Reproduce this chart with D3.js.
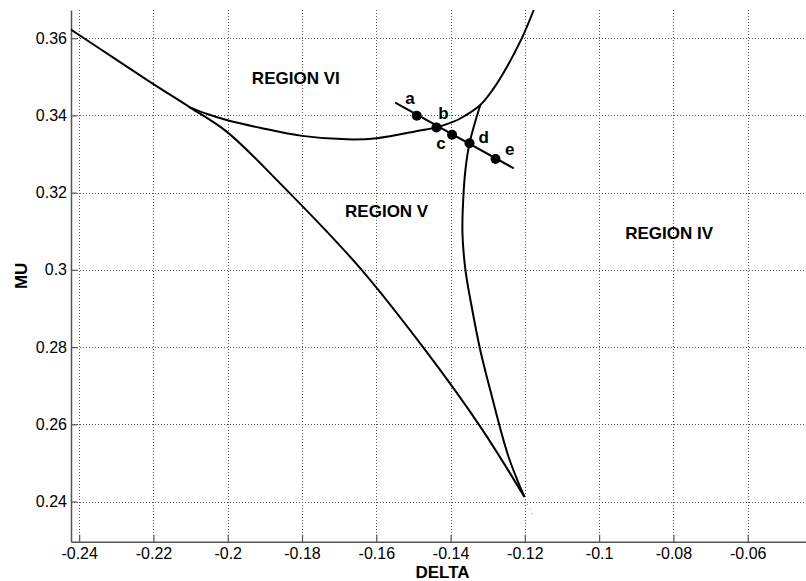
<!DOCTYPE html>
<html>
<head>
<meta charset="utf-8">
<script src="https://cdn.jsdelivr.net/npm/d3@7"></script>
<style>
  body { margin: 0; background: #fff; }
  svg { display: block; }
</style>
</head>
<body>
<svg id="chart" width="806" height="581"></svg>
<script>
var width = 806;
var height = 581;

// tick values and their printed labels
var xTicks = [-0.24, -0.22, -0.2, -0.18, -0.16, -0.14, -0.12, -0.1, -0.08, -0.06];
var xTickLabels = ["-0.24", "-0.22", "-0.2", "-0.18", "-0.16", "-0.14", "-0.12", "-0.1", "-0.08", "-0.06"];
var yTicks = [0.24, 0.26, 0.28, 0.3, 0.32, 0.34, 0.36];
var yTickLabels = ["0.24", "0.26", "0.28", "0.3", "0.32", "0.34", "0.36"];

// boundary curves [delta, mu]
var curveA = [
    [-0.2425, 0.3624], [-0.2299, 0.3544], [-0.2200, 0.3481], [-0.2102, 0.3421],
    [-0.2003, 0.3358], [-0.1859, 0.3224], [-0.1643, 0.3004], [-0.1468, 0.2792],
    [-0.1320, 0.2594], [-0.1201, 0.2412]
];
var curveB = [
    [-0.2102, 0.3421], [-0.2053, 0.3403], [-0.2003, 0.3388], [-0.1913, 0.3368],
    [-0.1800, 0.3347], [-0.1679, 0.3338], [-0.1598, 0.3341], [-0.1482, 0.3361],
    [-0.1438, 0.3369], [-0.1392, 0.3384], [-0.1374, 0.3392], [-0.1320, 0.3427],
    [-0.1284, 0.3470], [-0.1248, 0.3526], [-0.1208, 0.3600], [-0.1176, 0.3673]
];
var curveC = [
    [-0.1320, 0.3427], [-0.1349, 0.3328], [-0.1360, 0.3259], [-0.1366, 0.3181],
    [-0.1368, 0.3095], [-0.1360, 0.3000], [-0.1344, 0.2909], [-0.1320, 0.2792],
    [-0.1293, 0.2688], [-0.1244, 0.2516], [-0.1201, 0.2412]
];
var tail = [[-0.1199, 0.2405], [-0.1177, 0.2360]];

// path of the sample line and its points
var sampleLine = [[-0.1549, 0.3433], [-0.1230, 0.3263]];
var samplePoints = [
    { key: "a", x: -0.1491, y: 0.3399, lx: -0.1509, ly: 0.3429 },
    { key: "b", x: -0.1438, y: 0.3369, lx: -0.1419, ly: 0.3390 },
    { key: "c", x: -0.1396, y: 0.3350, lx: -0.1426, ly: 0.3312 },
    { key: "d", x: -0.1349, y: 0.3328, lx: -0.1311, ly: 0.3328 },
    { key: "e", x: -0.1279, y: 0.3287, lx: -0.1241, ly: 0.3298 }
];

var regions = [
    { key: "REGION VI", x: -0.1935, y: 0.3482 },
    { key: "REGION V", x: -0.1684, y: 0.3137 },
    { key: "REGION IV", x: -0.0930, y: 0.3079 }
];

var plotLeft = 71, plotTop = 10, plotBottom = 541.7, plotRight = 806;

var x = d3.scaleLinear().domain([-0.2422, -0.0443]).range([plotLeft, plotRight]);
var y = d3.scaleLinear().domain([0.2296, 0.3673]).range([plotBottom, plotTop]);

var svg = d3.select("#chart");

svg.append("defs").append("clipPath").attr("id", "plotclip")
    .append("rect")
    .attr("x", plotLeft).attr("y", plotTop)
    .attr("width", plotRight - plotLeft).attr("height", plotBottom - plotTop);

// grid
var grid = svg.append("g").attr("class", "grid")
    .style("stroke", "#555").style("stroke-width", 1).style("stroke-dasharray", "1,2");
grid.selectAll("line.v").data(xTicks).enter().append("line")
    .attr("x1", function (d) { return Math.round(x(d)) + 0.5; })
    .attr("x2", function (d) { return Math.round(x(d)) + 0.5; })
    .attr("y1", plotTop).attr("y2", plotBottom);
grid.selectAll("line.h").data(yTicks).enter().append("line")
    .attr("y1", function (d) { return Math.round(y(d)) + 0.5; })
    .attr("y2", function (d) { return Math.round(y(d)) + 0.5; })
    .attr("x1", plotLeft).attr("x2", plotRight);

// axes
var xAxis = d3.axisBottom(x)
    .tickValues(xTicks)
    .tickFormat(function (d, i) { return xTickLabels[i]; })
    .tickSizeInner(-7).tickSizeOuter(0).tickPadding(6);
var yAxis = d3.axisLeft(y)
    .tickValues(yTicks)
    .tickFormat(function (d, i) { return yTickLabels[i]; })
    .tickSizeInner(-6).tickSizeOuter(0).tickPadding(4);

var gx = svg.append("g").attr("transform", "translate(0," + plotBottom + ")").call(xAxis);
var gy = svg.append("g").attr("transform", "translate(" + plotLeft + ",0)").call(yAxis);
[gx, gy].forEach(function (g) {
    g.select(".domain").style("stroke", "#555").style("stroke-width", 1.5);
    g.selectAll(".tick line").style("stroke", "#555").style("stroke-width", 1.2);
    g.selectAll(".tick text")
        .style("font-family", "'Liberation Sans', Arial, sans-serif")
        .style("font-size", "16px")
        .style("fill", "#000");
});

svg.append("text")
    .attr("x", (plotLeft + plotRight) / 2 + 4)
    .attr("y", 578)
    .attr("text-anchor", "middle")
    .style("font-family", "'Liberation Sans', Arial, sans-serif")
    .style("font-weight", "bold")
    .style("font-size", "17px")
    .text("DELTA");

svg.append("text")
    .attr("transform", "translate(27," + (plotTop + plotBottom) / 2 + ") rotate(-90)")
    .attr("text-anchor", "middle")
    .style("font-family", "'Liberation Sans', Arial, sans-serif")
    .style("font-weight", "bold")
    .style("font-size", "17px")
    .text("MU");

// curves
var line = d3.line()
    .x(function (d) { return x(d[0]); })
    .y(function (d) { return y(d[1]); })
    .curve(d3.curveCatmullRom.alpha(0.5));
var straight = d3.line()
    .x(function (d) { return x(d[0]); })
    .y(function (d) { return y(d[1]); });

var plot = svg.append("g").attr("clip-path", "url(#plotclip)");
[curveA, curveB, curveC].forEach(function (c) {
    plot.append("path")
        .attr("d", line(c))
        .style("fill", "none")
        .style("stroke", "#000")
        .style("stroke-width", 2);
});
plot.append("path")
    .attr("d", straight(tail))
    .style("fill", "none")
    .style("stroke", "#888")
    .style("stroke-width", 1)
    .style("stroke-dasharray", "1,4");

plot.append("path")
    .attr("d", straight(sampleLine))
    .style("fill", "none")
    .style("stroke", "#000")
    .style("stroke-width", 2);

plot.selectAll("circle.pt").data(samplePoints).enter().append("circle")
    .attr("cx", function (d) { return x(d.x); })
    .attr("cy", function (d) { return y(d.y); })
    .attr("r", 5)
    .style("fill", "#000");

svg.selectAll("text.pl").data(samplePoints).enter().append("text")
    .attr("x", function (d) { return x(d.lx); })
    .attr("y", function (d) { return y(d.ly); })
    .attr("text-anchor", "middle")
    .style("font-family", "'Liberation Sans', Arial, sans-serif")
    .style("font-weight", "bold")
    .style("font-size", "17px")
    .text(function (d) { return d.key; });

svg.selectAll("text.rg").data(regions).enter().append("text")
    .attr("x", function (d) { return x(d.x); })
    .attr("y", function (d) { return y(d.y); })
    .style("font-family", "'Liberation Sans', Arial, sans-serif")
    .style("font-weight", "bold")
    .style("font-size", "17px")
    .text(function (d) { return d.key; });
</script>
</body>
</html>
